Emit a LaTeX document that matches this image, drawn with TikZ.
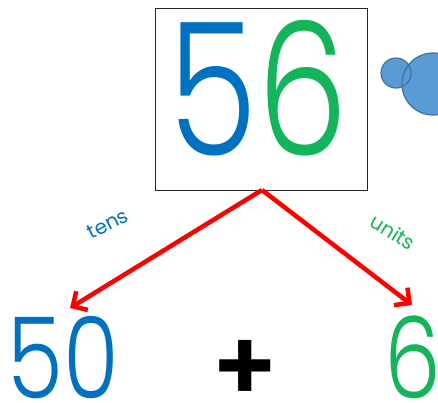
\documentclass[tikz,border=0pt]{standalone}
\usepackage{fontspec}
\setmainfont{Poppins Light}
\newfontfamily\hand{Poppins}
\newfontfamily\heavy{Poppins SemiBold}
\usetikzlibrary{arrows.meta}
\definecolor{dblue}{HTML}{0070C0}
\definecolor{dgreen}{HTML}{14B45A}
\definecolor{cfill}{HTML}{5B9BD5}
\definecolor{cline}{HTML}{41719C}
\begin{document}
\begin{tikzpicture}[x=1pt,y=-1pt,
  conn/.style={red,line width=4.5pt,-{Straight Barb[length=11pt,width=22pt,line width=4.5pt]}},
  bignum/.style={inner sep=0pt,xscale=0.78,font=\fontsize{185}{185}\selectfont},
  smallnum/.style={inner sep=0pt,xscale=0.8,font=\fontsize{113}{113}\selectfont},
  lbl/.style={inner sep=0pt,font=\hand\fontsize{20}{20}\selectfont}]
\useasboundingbox (0,0) rectangle (438,402);
\node[draw=black!85,line width=0.8pt,minimum width=212pt,minimum height=182pt,inner sep=0pt] (box) at (261,99) {};
\node[bignum,anchor=base] (num) at (258,155) {\textcolor{dblue}{5}\textcolor{dgreen}{6}};
\begin{scope}
\clip (0,0) rectangle (438,402);
\fill[cfill] (433,84) circle (31pt);
\fill[cfill] (396,73) circle (15pt);
\draw[cline,line width=1.2pt] (433,84) circle (31pt);
\draw[cline,line width=1.2pt] (396,73) circle (15pt);
\end{scope}
\coordinate (top) at (262,190);
\node[smallnum,anchor=base,text=dblue] (fifty) at (63,398) {50};
\node[smallnum,anchor=base,text=dgreen] (six) at (413,398) {6};
\node[inner sep=0pt,font=\heavy\fontsize{100}{100}\selectfont] (plus) at (245,371) {+};
\coordinate (lt) at (70,308);
\coordinate (rt) at (412,305);
\draw[conn] (top) -- (lt);
\draw[conn] (top) -- (rt);
\node[lbl,text=dblue,rotate=27] (tens) at (108,224) {tens};
\node[lbl,text=dgreen,rotate=-32] (units) at (393,232) {units};
\end{tikzpicture}
\end{document}
